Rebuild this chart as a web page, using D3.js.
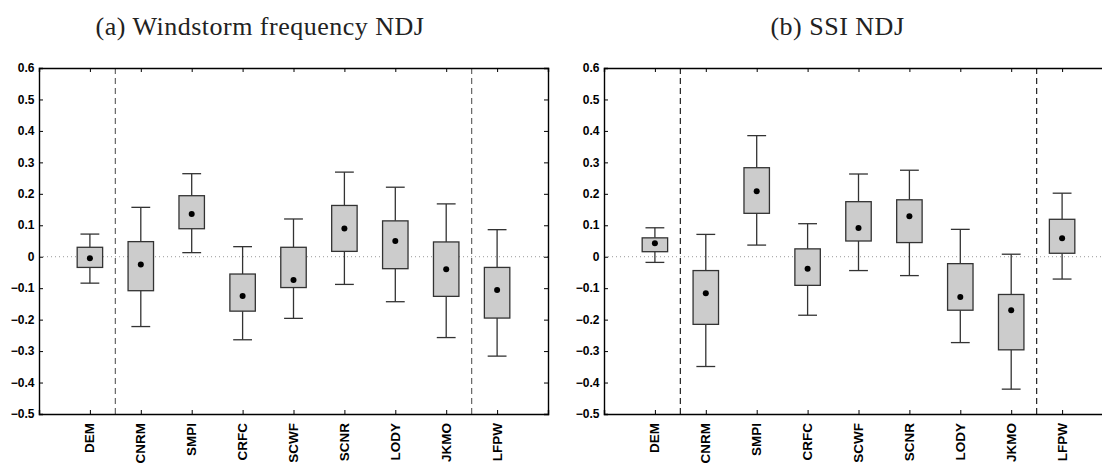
<!DOCTYPE html>
<html>
<head>
<meta charset="utf-8">
<script src="https://cdn.jsdelivr.net/npm/d3@7"></script>
<style>
  body { margin: 0; background: #fff; }
  svg { display: block; }
  .ylab { font-family: "Liberation Sans", Arial, sans-serif; font-weight: bold; font-size: 12px; fill: #000; }
  .xlab { font-family: "Liberation Sans", Arial, sans-serif; font-weight: bold; font-size: 13.5px; fill: #000; }
  .title { font-family: "Liberation Serif", "DejaVu Serif", serif; font-size: 26px; letter-spacing: 0.5px; fill: #222; }
</style>
</head>
<body>
<div class="forSvg"></div>
<script>
// chart size
const svg_w = 1102;
const svg_h = 463;

// models along the x axis
const categories = ["DEM", "CNRM", "SMPI", "CRFC", "SCWF", "SCNR", "LODY", "JKMO", "LFPW"];
// y tick values
const yTicks = [-0.5, -0.4, -0.3, -0.2, -0.1, 0, 0.1, 0.2, 0.3, 0.4, 0.5, 0.6];

// (a) windstorm frequency NDJ
const aWhiskerHigh = [0.072, 0.157, 0.264, 0.032, 0.120, 0.269, 0.221, 0.168, 0.086];
const aBoxTop      = [0.030, 0.048, 0.194, -0.055, 0.030, 0.163, 0.114, 0.047, -0.034];
const aMean        = [-0.005, -0.025, 0.136, -0.125, -0.074, 0.090, 0.050, -0.040, -0.106];
const aBoxBottom   = [-0.034, -0.108, 0.089, -0.173, -0.098, 0.017, -0.038, -0.126, -0.195];
const aWhiskerLow  = [-0.084, -0.222, 0.013, -0.264, -0.196, -0.088, -0.143, -0.257, -0.316];

// (b) SSI NDJ
const bWhiskerHigh = [0.092, 0.071, 0.385, 0.105, 0.263, 0.275, 0.087, 0.008, 0.202];
const bBoxTop      = [0.060, -0.044, 0.283, 0.025, 0.175, 0.181, -0.022, -0.120, 0.119];
const bMean        = [0.043, -0.116, 0.208, -0.038, 0.091, 0.129, -0.128, -0.170, 0.059];
const bBoxBottom   = [0.016, -0.215, 0.138, -0.091, 0.050, 0.045, -0.170, -0.296, 0.011];
const bWhiskerLow  = [-0.018, -0.349, 0.037, -0.186, -0.044, -0.060, -0.273, -0.421, -0.071];

// panel layout
const plotW = 509;
const plotTop = 68;
const plotBottom = 414;

const svg = d3.select(".forSvg")
  .append("svg")
  .attr("width", svg_w)
  .attr("height", svg_h);

function drawPanel(left, title, titleX, dashColor, hi, q3, mean, q1, lo) {
  const x = d3.scaleLinear().domain([0, 10]).range([left, left + plotW]);
  const y = d3.scaleLinear().domain([-0.5, 0.6]).range([plotBottom, plotTop]);
  const g = svg.append("g");

  const rows = categories.map((c, i) => ({ c: c, i: i + 1, hi: hi[i], q3: q3[i], m: mean[i], q1: q1[i], lo: lo[i] }));

  // zero line (dotted)
  g.append("line")
    .attr("x1", x(0)).attr("x2", x(10))
    .attr("y1", y(0)).attr("y2", y(0))
    .attr("stroke", "#999").attr("stroke-width", 1)
    .attr("stroke-dasharray", "1,3");

  // separators between observations / models / other
  [1.5, 8.5].forEach(v => {
    g.append("line")
      .attr("x1", x(v)).attr("x2", x(v))
      .attr("y1", y(0.6)).attr("y2", y(-0.5))
      .attr("stroke", dashColor).attr("stroke-width", 1.2)
      .attr("stroke-dasharray", "6,4");
  });

  const boxes = g.selectAll("g.box").data(rows).enter().append("g").attr("class", "box");
  const bw = 0.5, cw = 0.37;
  const stroke = "#333";

  // whiskers
  boxes.append("line")
    .attr("x1", d => x(d.i)).attr("x2", d => x(d.i))
    .attr("y1", d => y(d.hi)).attr("y2", d => y(d.q3))
    .attr("stroke", stroke).attr("stroke-width", 1.3);
  boxes.append("line")
    .attr("x1", d => x(d.i)).attr("x2", d => x(d.i))
    .attr("y1", d => y(d.q1)).attr("y2", d => y(d.lo))
    .attr("stroke", stroke).attr("stroke-width", 1.3);
  boxes.append("line")
    .attr("x1", d => x(d.i - cw / 2)).attr("x2", d => x(d.i + cw / 2))
    .attr("y1", d => y(d.hi)).attr("y2", d => y(d.hi))
    .attr("stroke", stroke).attr("stroke-width", 1.3);
  boxes.append("line")
    .attr("x1", d => x(d.i - cw / 2)).attr("x2", d => x(d.i + cw / 2))
    .attr("y1", d => y(d.lo)).attr("y2", d => y(d.lo))
    .attr("stroke", stroke).attr("stroke-width", 1.3);
  // box
  boxes.append("rect")
    .attr("x", d => x(d.i - bw / 2))
    .attr("y", d => y(d.q3))
    .attr("width", d => x(d.i + bw / 2) - x(d.i - bw / 2))
    .attr("height", d => y(d.q1) - y(d.q3))
    .attr("fill", "#cccccc").attr("stroke", stroke).attr("stroke-width", 1.3);
  // mean dot
  boxes.append("circle")
    .attr("cx", d => x(d.i)).attr("cy", d => y(d.m))
    .attr("r", 3).attr("fill", "#000");

  // axes frame with inward ticks
  const ax = g.append("g");
  ax.append("g").attr("transform", `translate(0,${plotBottom})`)
    .call(d3.axisBottom(x).tickValues(d3.range(1, 10)).tickSize(-4).tickFormat(""));
  ax.append("g").attr("transform", `translate(0,${plotTop})`)
    .call(d3.axisTop(x).tickValues(d3.range(1, 10)).tickSize(-4).tickFormat(""));
  ax.append("g").attr("transform", `translate(${left},0)`)
    .call(d3.axisLeft(y).tickValues(yTicks).tickSize(-4).tickFormat(""));
  ax.append("g").attr("transform", `translate(${left + plotW},0)`)
    .call(d3.axisRight(y).tickValues(yTicks).tickSize(-4).tickFormat(""));
  ax.selectAll("path.domain").attr("stroke", "#000").attr("stroke-width", 1.4);
  ax.selectAll(".tick line").attr("stroke", "#000").attr("stroke-width", 1);

  // y tick labels
  g.selectAll("text.ylab").data(yTicks).enter().append("text")
    .attr("class", "ylab")
    .attr("x", left - 4.5)
    .attr("y", d => y(d))
    .attr("dy", "0.35em")
    .attr("text-anchor", "end")
    .text(d => d === 0 ? "0" : d3.format(".1f")(d).replace("-", "\u2013"));

  // x tick labels, rotated
  g.selectAll("text.xlab").data(rows).enter().append("text")
    .attr("class", "xlab")
    .attr("transform", d => `translate(${x(d.i) + 4.5},${plotBottom + 9}) rotate(-90)`)
    .attr("text-anchor", "end")
    .text(d => d.c);

  // title
  svg.append("text")
    .attr("class", "title")
    .attr("x", titleX).attr("y", 35)
    .attr("text-anchor", "middle")
    .text(title);
}

drawPanel(39, "(a) Windstorm frequency NDJ", 260, "#666", aWhiskerHigh, aBoxTop, aMean, aBoxBottom, aWhiskerLow);
drawPanel(604, "(b) SSI NDJ", 837.5, "#222", bWhiskerHigh, bBoxTop, bMean, bBoxBottom, bWhiskerLow);
</script>
</body>
</html>
